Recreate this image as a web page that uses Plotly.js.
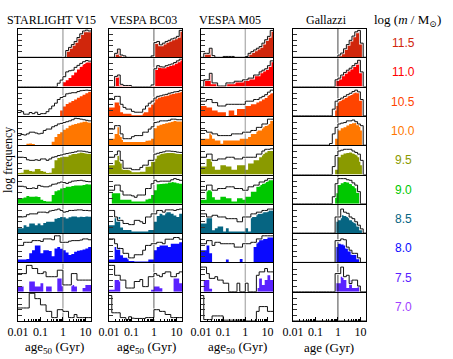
<!DOCTYPE html>
<html>
<head>
<meta charset="utf-8">
<script src="https://cdn.plot.ly/plotly-3.0.1.min.js"></script>
<style>
  body { margin: 0; background: #fff; }
  #grafico { width: 453px; height: 359px; }
</style>
</head>
<body>
<div id="grafico"></div>
<script>
/* ========= DADOS ========= */
// grade de idade em log10(Gyr): 26 bins de 0.125 dex a partir de -2
const logIdadeMin = -2;
const larguraBin = 0.125;
const nBins = 26;

const titulosColunas = ["STARLIGHT V15", "VESPA BC03", "VESPA M05", "Gallazzi"];
const rotulosEixoX = ["age<sub>50</sub> (Gyr)", "age<sub>50</sub> (Gyr)", "age<sub>50</sub> (Gyr)", "age (Gyr)"];
const massas = ["11.5", "11.0", "10.5", "10.0", "9.5", "9.0", "8.5", "8.0", "7.5", "7.0"];
const coresMassa = ["#d0260c", "#ff0000", "#ff4400", "#ff7700", "#8a9a00", "#00c800", "#066582", "#0a0aff", "#5a22ff", "#a040ff"];
const ticksIdade = [0.01, 0.1, 1, 10];
const textoTicksIdade = ["0.01", "0.1", "1", "10"];

// alturas em log-frequência (0 = base do painel, 10 = topo), uma linha por massa
const starlightPreench = [
  [0,0,0,0,0,0,0,0,0,0,0,0,0,0,0,0,0,2.4,3.5,4.5,5.6,7.0,8.3,9.3,9.6,9.3],
  [0,0,0,0,0,0,0,0,0,0,0,0,0,0,0,0,1.5,2.2,3.0,4.0,5.0,6.0,7.0,8.0,8.8,8.8],
  [0,0,0,0,0,0,0,0,0,0,0,0,0,0,0,1.9,3.3,4.2,4.7,5.3,5.8,6.4,6.9,7.5,8.0,8.6],
  [0,0,0,0.5,0.6,0.4,0,0,0,0,0,0,1.2,2.9,4.0,4.6,5.5,6.0,6.9,7.2,7.5,7.8,8.0,8.3,8.6,8.0],
  [0.5,0.6,1.7,1.7,1.2,1.1,1.9,1.9,1.2,1.0,0.5,0.6,2.2,5.0,5.8,6.1,6.3,6.3,6.8,7.2,7.2,7.5,7.8,7.6,7.4,7.4],
  [2.0,2.0,2.2,2.8,2.5,2.5,2.6,2.4,1.4,1.0,0.8,0.8,3.1,4.4,4.8,5.4,5.6,6.0,6.0,6.3,6.5,6.5,6.5,6.6,6.9,6.8],
  [1.7,1.7,2.8,2.2,3.4,3.4,2.8,3.4,2.8,3.6,4.0,4.0,4.0,5.1,5.3,5.7,5.6,5.2,5.6,5.9,5.9,5.6,5.8,5.7,5.9,5.8],
  [1.0,1.0,1.0,1.2,3.2,4.3,6.0,6.0,3.2,4.3,4.3,4.0,2.2,4.9,5.4,4.8,4.3,3.5,2.6,3.0,3.8,4.1,4.3,4.6,4.9,5.4],
  [1.8,1.8,0,0,3.6,3.6,1.8,1.8,3.0,0,1.8,1.8,0,0,4.7,4.7,0,0,0,2.4,1.8,0,0,1.3,2.4,2.4],
  [0,0,0,0,0,0,0,0,0,0,0,0,0,0,0,0,0,0,0,0,0,0,0,0,0,0],
];
const starlightContorno = [
  starlightPreench[0],
  [0,0,0,0,0,0,0,0,0,0,0,0,0,0,1.2,2.3,3.5,5.2,5.6,5.8,6.8,7.5,8.2,8.8,9.2,9.0],
  [1.2,1.5,0.6,0.6,1.2,0.8,1.3,0.5,0.8,0.8,1.5,2.5,3.5,4.5,5.8,6.5,6.9,7.8,8.0,8.2,8.2,8.6,8.9,9.0,9.1,9.0],
  [3.4,3.8,3.6,4.0,4.6,4.6,4.3,4.0,4.2,5.2,5.7,5.7,6.5,6.9,7.5,7.7,8.0,8.3,8.6,9.0,9.5,9.4,9.2,9.0,8.8,8.6],
  [6.1,6.1,6.0,5.2,5.0,5.0,5.2,5.0,5.5,5.5,5.0,5.5,6.1,6.3,6.7,6.9,7.2,7.4,7.6,7.8,8.0,8.3,8.3,8.2,8.0,7.8],
  [6.2,6.2,6.0,5.4,5.4,5.6,5.4,6.5,6.2,6.0,6.0,6.3,6.9,7.0,7.4,7.7,7.5,7.2,7.6,8.0,8.1,8.2,8.3,8.1,7.9,7.8],
  [5.7,5.7,5.8,6.5,6.8,6.8,6.8,7.4,7.4,7.4,7.2,7.8,8.0,8.2,8.5,8.0,7.4,7.6,8.0,8.0,8.1,8.2,8.2,8.0,8.0,7.9],
  [6.0,6.0,7.1,7.1,7.1,7.7,7.7,7.7,7.4,8.3,8.3,8.3,8.0,9.4,9.4,7.1,7.1,7.1,7.5,7.7,7.7,7.7,7.9,8.3,8.3,8.0],
  [6.4,6.4,6.4,9.3,9.3,8.2,8.2,6.4,6.4,7.0,5.3,5.3,5.3,5.3,7.6,7.6,2.4,2.4,2.4,6.4,6.4,4.1,4.1,4.1,4.1,4.1],
  [4.6,4.6,4.6,4.6,9.8,9.8,7.9,7.9,5.7,5.7,3.4,3.4,1.2,1.2,4.0,4.0,3.4,3.4,1.2,1.2,2.3,1.2,1.2,1.2,1.2,1.2],
];

const bc03Preench = [
  [0,0,1.4,2.9,0.8,0.5,0,0,0,0,0,0,0,0,0,0.5,5.2,5.6,4.4,5.0,5.6,6.0,6.5,6.8,7.4,9.5],
  [0,0,3.6,4.1,0.8,0.4,0.4,0.4,0,0,0,0,0,0,0,0.6,6.3,7.4,7.0,6.9,7.4,7.7,8.0,8.5,9.1,9.7],
  [3.0,3.0,4.7,4.7,1.3,0.8,0.8,0.8,0.2,0.2,0.2,0.2,1.3,1.3,3.0,4.0,6.3,6.9,6.9,7.2,7.4,7.7,8.0,8.2,8.5,8.7],
  [2.3,2.3,4.0,6.3,2.9,1.1,1.1,1.1,1.1,1.1,1.1,1.1,1.1,1.6,1.7,2.3,6.0,6.9,7.2,7.5,7.8,8.0,8.3,8.6,8.4,8.4],
  [3.3,3.3,5.0,6.7,3.9,1.7,1.7,1.5,0.8,0.8,0.8,1.0,1.0,2.8,2.8,4.5,5.6,6.7,7.4,7.5,7.6,7.6,7.6,7.5,7.3,7.2],
  [0,3.7,3.7,3.7,1.4,1.4,1.4,1.4,0.8,0.8,0.8,0.8,0.8,1.5,1.8,3.1,4.8,6.9,7.0,7.1,7.2,7.6,7.7,7.5,7.3,7.1],
  [2.8,2.8,5.7,5.7,2.0,1.1,1.1,1.1,0.6,0.6,0.6,0.6,0.6,0.6,1.1,1.1,4.0,6.0,6.8,6.3,7.4,7.4,6.8,6.2,5.7,6.8],
  [1.0,1.0,5.4,5.4,2.5,1.6,1.6,0.5,0.5,0.3,0.3,0.3,0.3,0.3,1.0,1.0,4.3,5.4,6.0,6.0,6.0,5.4,6.6,6.6,6.6,7.1],
  [0.7,0.7,4.1,4.1,0,0,0,0,0,0,0,0,0,0,0,0.7,1.8,1.8,1.2,0,0,0,0,4.7,4.7,3.0],
  [0,0,0,0,0,0,0,0,0,0,0,0,0,0,0,0,0,0,0,0,0,0,0,0,0,0],
];
const bc03Contorno = [
  bc03Preench[0],
  bc03Preench[1],
  [5.8,5.8,6.9,6.9,4.1,3.0,2.4,2.4,1.6,1.3,1.3,1.3,2.4,3.5,4.5,5.2,6.3,6.9,7.1,7.4,7.6,8.0,8.2,8.5,8.6,9.0],
  [5.7,5.7,6.9,6.9,4.0,2.3,2.3,2.3,3.0,3.4,3.4,3.4,4.6,4.6,5.7,6.5,8.0,8.2,8.6,8.6,8.6,8.8,9.2,9.2,9.0,9.0],
  [6.1,6.1,7.0,8.3,5.0,2.2,2.2,2.2,1.7,1.7,1.7,2.5,3.3,3.3,5.0,5.0,7.2,7.5,7.8,8.0,8.3,8.3,8.2,8.1,7.9,7.8],
  [4.8,4.8,6.6,6.6,4.5,3.1,3.1,3.1,2.8,2.3,3.1,3.1,3.1,5.4,5.4,7.1,8.3,7.8,8.0,8.0,8.0,8.0,8.5,8.9,8.6,8.3],
  [8.0,8.0,5.7,4.5,4.5,3.4,3.4,3.0,3.0,4.5,4.5,4.0,3.4,5.7,5.7,6.8,6.8,8.0,8.0,7.4,8.2,8.2,8.2,8.0,8.3,8.5],
  [8.3,8.3,6.6,4.9,4.9,3.2,3.2,1.6,1.6,2.7,2.7,2.7,4.3,6.0,6.0,6.6,6.6,7.1,7.1,6.6,8.2,8.2,8.2,8.8,8.8,8.2],
  [9.3,9.3,5.8,5.8,4.1,4.1,1.3,1.3,1.3,3.6,3.6,4.3,1.8,1.8,5.3,5.3,6.4,5.8,5.3,6.4,7.0,7.0,5.3,5.3,6.4,7.0],
  [9.0,2.9,2.9,2.9,1.2,1.2,0.5,1.5,1.0,0.9,0.9,0.9,0.9,1.2,1.2,1.2,4.0,4.0,3.4,3.4,2.3,2.3,1.2,1.2,1.2,1.2],
];

const m05Preench = [
  [0,1.4,1.4,3.2,0.6,0,0,0,0.3,0.3,0.3,0.3,0,0,0,0,0.3,1.4,2.0,2.6,3.2,3.8,5.0,6.2,7.4,9.5],
  [0,2.4,2.4,4.7,1.3,1.3,0.2,0.2,0.2,1.3,1.3,1.3,1.9,1.9,1.9,2.4,2.4,3.0,3.0,4.1,4.1,5.2,5.8,6.3,7.4,9.1],
  [3.5,3.5,3.0,3.0,1.9,1.9,1.3,1.3,1.3,0,1.9,1.9,0.3,2.4,2.4,2.4,3.5,3.5,4.1,4.1,4.7,5.2,5.8,6.3,7.4,8.0],
  [2.3,2.3,2.3,4.6,2.3,1.7,1.7,0.5,1.7,1.7,1.7,1.7,1.7,1.7,2.3,2.3,2.3,2.9,4.0,4.0,5.2,5.2,6.3,6.8,7.5,8.6],
  [2.8,2.8,5.5,5.5,2.8,1.7,1.7,3.3,3.3,2.8,2.8,1.7,1.7,3.3,3.3,3.3,1.7,3.9,3.9,5.0,5.0,6.1,7.2,7.8,8.3,8.3],
  [1.4,1.4,4.8,4.8,2.3,1.4,1.4,2.5,2.5,2.0,2.0,0.8,0.8,2.0,2.0,1.4,2.5,2.5,4.3,4.3,6.0,6.6,7.1,7.7,8.3,8.3],
  [3.4,3.4,5.7,5.7,1.0,1.7,2.3,2.3,0.6,1.7,0.6,0.6,0.6,0.6,0.6,0.6,1.7,0.6,5.7,5.7,6.8,6.8,7.4,7.4,8.0,8.0],
  [4.3,4.3,6.0,3.2,0,0,0,0,0,1.0,0,0,0,0,1.2,0,0,0,0,5.4,7.1,8.3,8.3,8.3,8.8,8.8],
  [0,4.1,4.1,1.0,0,0,0,0,0,0,0,0,0,0,0,0,0,0,0,0,1.3,4.7,2.4,4.1,5.8,4.1],
  [0,0,0,0,0,0,0,0,0,0,0,0,0,0,0,0,0,0,0,0,0,0,0,0,0,0],
];
const m05Contorno = [
  m05Preench[0],
  m05Preench[1],
  [5.2,5.2,5.8,5.8,4.7,4.7,3.5,3.5,3.5,4.1,4.1,4.1,4.1,4.1,4.1,4.1,5.2,5.2,5.2,5.8,5.8,6.4,6.9,7.5,8.4,9.1],
  [5.2,5.2,4.6,4.6,4.0,4.0,3.4,3.4,3.4,3.4,3.4,4.0,4.0,4.0,4.0,4.6,4.6,4.6,5.2,5.2,6.3,6.3,7.5,7.5,9.2,9.2],
  [6.1,6.1,7.2,7.2,5.0,5.0,5.5,5.5,5.5,6.1,6.1,6.1,5.5,5.5,5.5,6.1,6.1,6.1,6.1,6.1,7.2,7.2,8.3,8.9,8.9,9.1],
  [4.8,4.8,6.6,6.6,4.8,4.8,5.4,5.4,5.4,6.0,6.0,6.0,5.4,5.4,5.4,4.8,4.8,6.0,6.0,6.6,6.6,7.7,7.7,8.3,8.9,8.9],
  [6.8,6.8,5.7,5.7,6.3,6.3,5.7,5.7,5.7,5.1,5.1,5.1,5.1,4.0,4.0,5.7,5.7,5.7,6.8,6.8,7.4,7.4,8.0,8.0,8.5,8.5],
  [6.6,6.6,7.7,7.7,6.0,7.1,7.1,6.6,6.6,6.6,6.6,6.6,5.4,5.4,5.4,6.6,6.6,6.6,7.1,7.1,8.3,8.3,9.4,9.4,9.4,9.4],
  [8.7,8.7,6.4,4.7,4.7,5.3,4.1,4.1,3.0,3.0,0,0,0,3.0,0,0,3.0,0,0,0,5.8,7.0,7.0,8.2,7.0,7.0],
  [9.0,0.5,0.5,0.5,1.8,1.8,1.8,1.8,0.3,0.3,0.3,0.3,0.3,0.3,0.3,0.3,0,0,0,0,3.4,5.1,5.1,5.1,3.4,3.4],
];

const gallazziPreench = [
  [0,0,0,0,0,0,0,0,0,0,0,0,0,0,0,0,0.8,1.5,3.0,4.5,6.0,7.5,9.0,9.5,5.0,0],
  [0,0,0,0,0,0,0,0,0,0,0,0,0,0,0,2.4,3.0,4.1,5.0,5.8,6.5,7.4,8.2,9.3,5.2,0],
  [0,0,0,0,0,0,0,0,0,0,0,0,0,0,0,3.5,5.2,5.8,6.3,6.9,7.4,8.0,8.5,8.3,5.8,0],
  [0,0,0,0,0,0,0,0,0,0,0,0,0,0,0,2.3,5.2,6.0,6.3,7.0,7.5,7.8,8.0,7.5,5.2,0],
  [0,0,0,0,0,0,0,0,0,0,0,0,0,0,0,1.7,6.1,7.0,7.4,7.6,7.8,7.4,7.0,6.1,3.3,0],
  [0,0,0,0,0,0,0,0,0,0,0,0,0,0,0,3.7,6.6,7.3,7.7,7.5,7.0,6.3,5.5,4.3,0,0],
  [0,0,0,0,0,0,0,0,0,0,0,0,0,0,0,4.0,4.5,6.3,6.0,5.7,4.5,4.0,3.4,2.3,1.2,0],
  [0,0,0,0,0,0,0,0,0,0,0,0,0,0,0,5.4,6.6,6.3,6.0,4.9,4.0,2.7,2.7,1.6,0,0],
  [0,0,0,0,0,0,0,0,0,0,0,0,0,0,0,3.0,3.0,5.3,4.1,1.3,4.1,1.3,1.3,2.3,0,0],
  [0,0,0,0,0,0,0,0,0,0,0,0,0,0,0,0,0,0,0,0,0,0,0,0,0,0],
];
const gallazziContorno = [
  gallazziPreench[0],
  gallazziPreench[1],
  [0,0,0,0,0,0,0,0,0,0,0,0,0,0,2.4,5.2,5.8,6.3,6.9,7.5,8.0,8.6,9.1,8.5,5.8,0],
  [0,0,0,0,0,0,0,0,0,0,0,0,0,0.6,4.0,6.3,7.5,7.8,8.0,8.6,8.6,8.9,8.3,7.5,6.9,0],
  [0,0,0,0,0,0,0,0,0,0,0,0,0,0,2.8,6.7,8.3,8.6,8.9,8.9,8.9,8.3,7.8,7.2,5.0,0],
  [0,0,0,0,0,0,0,0,0,0,0,0,0,0,2.5,7.1,8.9,8.9,8.9,8.5,8.3,7.4,6.6,4.3,0,0],
  [0,0,0,0,0,0,0,0,0,0,0,0,0,0,0,5.7,5.7,8.5,7.4,7.0,5.7,5.1,4.0,2.8,1.5,0],
  [0,0,0,0,0,0,0,0,0,0,0,0,0,0,0,7.7,7.7,8.3,8.0,5.4,4.3,3.2,3.2,1.6,0,0],
  [0,0,0,0,0,0,0,0,0,0,0,0,0,0,0,6.4,6.4,8.7,5.3,5.8,2.9,4.1,4.1,2.0,0,0],
  [0,0,0,0,0,0,0,0,0,0,0,0,0,0,0,0,0,0,0,0,0,0,0,0,0,0],
];

const preenchimentos = [starlightPreench, bc03Preench, m05Preench, gallazziPreench];
const contornos = [starlightContorno, bc03Contorno, m05Contorno, gallazziContorno];

/* ========= LAYOUT (pixels) ========= */
const W = 453, H = 359;
const colunasPx = [[18, 91], [109, 182], [201, 273], [293, 366]];
const centrosTitulo = [51, 143.5, 230, 326.5];
const centrosRotuloX = [54, 146, 237, 329];
const topoPx = 29, passoLinha = 29.3, alturaPainel = 28.3;
const corLinhaGyr = ["rgba(120,120,120,0.55)", "rgba(60,60,60,0.8)", "rgba(120,120,120,0.55)", "rgba(40,40,40,0.85)"];
const larguraLinhaGyr = [1.6, 1, 1.4, 1];

const serif = "Liberation Serif, DejaVu Serif, serif";
const sans = "Liberation Sans, Arial, sans-serif";

// bordas dos bins convertidas para Gyr
const bordas = [];
for (let i = 0; i <= nBins; i++) bordas.push(Math.pow(10, logIdadeMin + i * larguraBin));

function degraus(v) {
  const y = v.slice(0, nBins);
  while (y.length < nBins) y.push(0);
  y.push(y[nBins - 1]);
  return y;
}

const minorVals = [];
[0.01, 0.1, 1, 10].forEach((d) => {
  for (let m = 2; m <= 9; m++) if (d * m < 18) minorVals.push(d * m);
});

function renderizar() {
  const traces = [];
  const layout = {
    width: W,
    height: H,
    autosize: false,
    margin: { l: 0, r: 0, t: 0, b: 0 },
    paper_bgcolor: "#fff",
    plot_bgcolor: "#fff",
    showlegend: false,
    annotations: [],
  };

  massas.forEach((massa, r) => {
    const yTop = topoPx + r * passoLinha;
    const yBot = yTop + alturaPainel;
    const ultimaLinha = r === massas.length - 1;

    colunasPx.forEach(([xl, xr], c) => {
      const n = r * 4 + c + 1;
      const sx = n === 1 ? "" : String(n);
      const xa = "x" + sx, ya = "y" + sx;

      traces.push({
        x: bordas, y: degraus(preenchimentos[c][r]),
        xaxis: xa, yaxis: ya, mode: "lines", type: "scatter",
        line: { shape: "hv", width: 0, color: coresMassa[r] },
        fill: "tozeroy", fillcolor: coresMassa[r], hoverinfo: "skip",
      });
      traces.push({
        x: [1, 1], y: [0, 10], xaxis: xa, yaxis: ya, mode: "lines",
        line: { color: corLinhaGyr[c], width: larguraLinhaGyr[c] }, hoverinfo: "skip",
      });
      const yc = degraus(contornos[c][r]);
      traces.push({
        x: bordas, y: yc, xaxis: xa, yaxis: ya, mode: "lines",
        line: { shape: "hv", width: 2.6, color: "rgba(255,255,255,0.9)" }, hoverinfo: "skip",
      });
      traces.push({
        x: bordas, y: yc, xaxis: xa, yaxis: ya, mode: "lines",
        line: { shape: "hv", width: 1, color: "#111" }, hoverinfo: "skip",
      });

      layout["xaxis" + sx] = {
        domain: [xl / W, xr / W],
        anchor: ya,
        type: "log",
        range: [logIdadeMin, logIdadeMin + nBins * larguraBin],
        showline: true, mirror: true, linecolor: "#000", linewidth: 1,
        showgrid: false, zeroline: false, fixedrange: true,
        ticks: ultimaLinha ? "inside" : "",
        ticklen: 4, tickcolor: "#000",
        tickmode: "array", tickvals: ticksIdade, ticktext: textoTicksIdade,
        showticklabels: ultimaLinha,
        tickfont: { family: serif, size: 12, color: "#000" },
        minor: ultimaLinha
          ? { tickmode: "array", tickvals: minorVals, ticks: "inside", ticklen: 2, tickcolor: "#000" }
          : { ticks: "" },
      };
      layout["yaxis" + sx] = {
        domain: [1 - yBot / H, 1 - yTop / H],
        anchor: xa,
        range: [0, 10],
        showline: true, mirror: true, linecolor: "#000", linewidth: 1,
        showgrid: false, zeroline: false, fixedrange: true,
        ticks: "inside", ticklen: 4, tickcolor: "#333",
        tickmode: "array", tickvals: [2, 4, 6, 8],
        showticklabels: false,
      };
    });

    layout.annotations.push({
      xref: "paper", yref: "paper", x: 403 / W, y: 1 - (yTop + alturaPainel / 2) / H,
      text: massa, showarrow: false, xanchor: "center", yanchor: "middle",
      font: { family: sans, size: 12, color: coresMassa[r] },
    });
  });

  titulosColunas.forEach((t, c) => {
    layout.annotations.push({
      xref: "paper", yref: "paper", x: centrosTitulo[c] / W, y: 1 - 20 / H,
      text: t, showarrow: false, xanchor: "center", yanchor: "middle",
      font: { family: serif, size: 12, color: "#000" },
    });
    layout.annotations.push({
      xref: "paper", yref: "paper", x: centrosRotuloX[c] / W, y: 1 - 347 / H,
      text: rotulosEixoX[c], showarrow: false, xanchor: "center", yanchor: "middle",
      font: { family: serif, size: 13, color: "#000" },
    });
  });

  layout.annotations.push({
    xref: "paper", yref: "paper", x: 407 / W, y: 1 - 20 / H,
    text: "log (<i>m</i> / M<sub>⊙</sub>)", showarrow: false, xanchor: "center", yanchor: "middle",
    font: { family: serif, size: 13, color: "#000" },
  });
  layout.annotations.push({
    xref: "paper", yref: "paper", x: 0, y: 1 - 160 / H,
    text: "log frequency", showarrow: false, textangle: -90,
    xanchor: "left", yanchor: "middle", borderpad: 0,
    font: { family: serif, size: 12, color: "#000" },
  });

  Plotly.newPlot("grafico", traces, layout, { displayModeBar: false, staticPlot: true });
}

document.addEventListener("DOMContentLoaded", renderizar);
</script>
</body>
</html>
